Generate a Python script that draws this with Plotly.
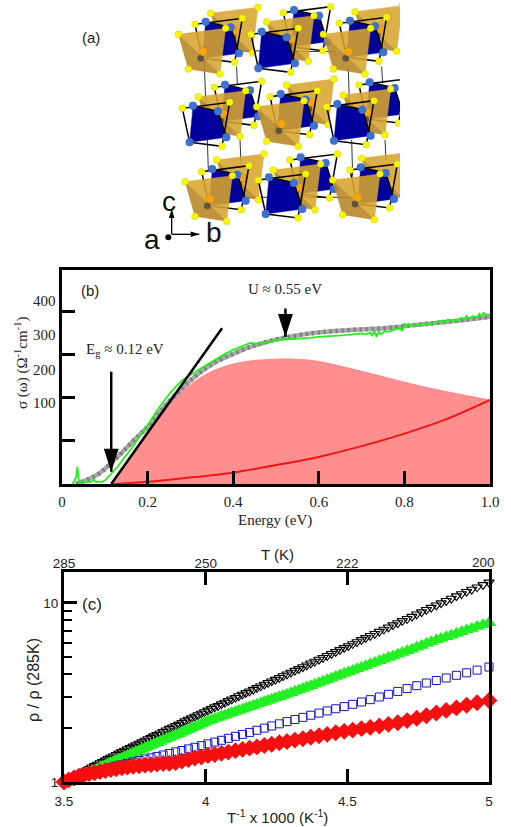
import plotly.graph_objects as go

W, H = 511, 827
SANS = "Liberation Sans"
SERIF = "Liberation Serif"

# ---------- panel (a): structure drawing, in a hidden axis system ----------
GOLD_FACE = [(0, 0), (142, -18), (125, 119), (30, 104)]
GOLD_DARK = [(0, 0), (125, 119), (30, 104)]
GOLD_ATOMS = [(0, 0), (142, -18), (125, 119), (30, 104)]
GOLD_CENTRE = (75, 52)
GOLD_CORE = (67, 72)
BLUE_FACE = [(32, -5), (107, 9), (132, 87), (22, 102)]
BLUE_ATOMS = [(32, -8), (107, 9), (132, 87), (22, 102)]
BLUE_YELLOW = [(0, 0), (142, -18), (119, 114)]
BLUE_CAGE = [(22, 102), (0, 0), (142, -18), (119, 114), (22, 102)]
BLUE_TOP = [(32, -8), (107, 9), (132, 87)]

BACK = [("g", 452, 40), ("b", 670, 38), ("g", 885, 35),
        ("b", 463, 262), ("g", 680, 255), ("b", 897, 255),
        ("g", 470, 480), ("b", 690, 480), ("g", 905, 475)]
MID = [("b", 405, 73), ("g", 620, 65), ("b", 838, 70),
       ("g", 415, 290), ("b", 630, 290), ("g", 850, 285),
       ("b", 425, 515), ("g", 640, 510), ("b", 870, 510)]
FRONT = [("g", 355, 103), ("b", 573, 103), ("g", 790, 103),
         ("b", 367, 325), ("g", 590, 320), ("b", 800, 320),
         ("g", 375, 545), ("b", 595, 540), ("g", 818, 540)]
THIN_BONDS = [((432, 175), (438, 320)), ((530, 200), (532, 255)),
              ((442, 420), (445, 510)), ((540, 420), (543, 490)),
              ((865, 200), (868, 310)), ((965, 200), (968, 250)),
              ((875, 420), (878, 530)), ((975, 420), (978, 480)),
              ((530, 152), (830, 155)), ((445, 592), (880, 592))]
TRIAD_ORIGIN = (335, 703)
TRIAD_DOT = (325, 712)
TRIAD_TIPS = [(418, 703, 90), (335, 628, 0)]

# ---------- panel (b): optical conductivity ----------
FIT_X = [0.033, 0.048, 0.087, 0.126, 0.165, 0.204, 0.243, 0.282, 0.321, 0.36, 0.399,
         0.438, 0.477, 0.524, 0.594, 0.672, 0.75, 0.828, 0.906, 1.0]
FIT_Y = [0, 2.7, 12.4, 29.8, 49.2, 68.6, 92, 112, 129, 142, 151,
         159, 165, 170.5, 176, 179, 181, 185, 188.8, 194.6]
GREEN_X = [0.025, 0.03, 0.033, 0.036, 0.038, 0.04, 0.045, 0.05, 0.06, 0.07, 0.075, 0.08, 0.085,
           0.09, 0.1, 0.11, 0.12, 0.13, 0.14, 0.15, 0.165, 0.18, 0.2, 0.22, 0.24, 0.26, 0.28,
           0.3, 0.32, 0.34, 0.36, 0.38, 0.4, 0.42, 0.44, 0.45, 0.46, 0.48, 0.5, 0.52, 0.54,
           0.56, 0.58, 0.6, 0.62, 0.64, 0.66, 0.68, 0.7, 0.71, 0.72, 0.725, 0.73, 0.735, 0.74,
           0.745, 0.75, 0.755, 0.76, 0.77, 0.78, 0.79, 0.795, 0.8, 0.805, 0.81, 0.815, 0.82,
           0.83, 0.84, 0.85, 0.86, 0.87, 0.88, 0.89, 0.895, 0.9, 0.91, 0.92, 0.925, 0.93,
           0.94, 0.945, 0.95, 0.96, 0.97, 0.975, 0.98, 0.985, 0.99, 1.0]
GREEN_Y = [0, 5, 8, 20, 5, 2, 3, 2, 2, 3, 5, 2, 3,
           2, 4, 9, 14, 20, 27, 33, 43, 55, 68, 84, 98, 110, 120,
           127, 133, 139, 146, 151, 156, 160, 164, 163.5, 163, 165, 167, 168, 168.5,
           169, 170, 171, 171.5, 172, 173, 174, 175, 174, 176, 172, 178, 171, 177,
           174, 176, 178, 177, 178, 180, 181, 178, 187, 183, 186, 184, 185,
           184, 185, 186, 186, 187, 189, 190, 187, 191, 190, 191, 189, 193,
           192, 195, 192, 195, 194, 198, 195, 199, 197, 197]
HUMP_X = [0.115, 0.138, 0.165, 0.204, 0.243, 0.282, 0.321, 0.36, 0.399, 0.438, 0.477, 0.532,
          0.594, 0.672, 0.75, 0.828, 0.906, 1.0]
HUMP_Y = [0, 16, 34.5, 64.7, 88, 108, 123, 133, 139.5, 143, 144.6, 145.4,
          143, 134.5, 124.8, 115, 106.6, 97.7]
DRUDE_X = [0.115, 0.202, 0.282, 0.403, 0.5, 0.602, 0.7, 0.802, 0.9, 1.0]
DRUDE_Y = [0, 2.7, 6.6, 13.5, 22, 31.8, 44, 58.9, 75.7, 97.7]
TANGENT_X = [0.115, 0.374]
TANGENT_Y = [0, 181]
GAP_ARROW_X = [0.115, 0.115]
GAP_ARROW_Y = [130.6, 14.3]
U_ARROW_X = [0.522, 0.522]
U_ARROW_Y = [204, 171]
B_XTICKS = [0, 0.2, 0.4, 0.6, 0.8, 1.0]
B_XLABELS = ["0", "0.2", "0.4", "0.6", "0.8", "1.0"]
B_YTICKS = [50, 100, 150, 200]
B_YLABELS = ["100", "200", "300", "400"]

# ---------- panel (c): resistivity, as log10 of rho/rho(285K) ----------
RES_X = [3.5, 3.517, 3.535, 3.553, 3.571, 3.589, 3.608, 3.627, 3.646, 3.665, 3.684, 3.704, 3.724,
         3.744, 3.765, 3.786, 3.807, 3.828, 3.85, 3.872, 3.894, 3.916, 3.939, 3.962, 3.985, 4.008,
         4.032, 4.056, 4.08, 4.105, 4.13, 4.155, 4.181, 4.207, 4.233, 4.26, 4.287, 4.315, 4.343,
         4.371, 4.4, 4.429, 4.459, 4.489, 4.519, 4.55, 4.581, 4.613, 4.645, 4.678, 4.711, 4.745,
         4.779, 4.814, 4.849, 4.885, 4.921, 4.958, 5.0]
BLACK_LOG = [0, .014, .029, .044, .059, .074, .09, .106, .121, .137, .152, .168, .184,
             .199, .215, .232, .248, .264, .281, .298, .314, .331, .349, .366, .383, .4,
             .418, .435, .453, .471, .489, .507, .526, .545, .563, .582, .602, .622, .642,
             .663, .684, .705, .727, .749, .771, .794, .817, .84, .864, .888, .912, .937,
             .962, .987, 1.012, 1.038, 1.063, 1.088, 1.115]
GREEN_LOG = [-.012, 0, .013, .026, .039, .052, .066, .08, .094, .107, .121, .134, .148,
             .162, .176, .191, .205, .219, .234, .249, .263, .278, .293, .309, .324, .341,
             .354, .367, .38, .394, .407, .42, .434, .448, .462, .476, .49, .507, .522,
             .538, .555, .571, .589, .606, .623, .641, .659, .677, .695, .714, .733, .752,
             .774, .793, .811, .83, .849, .868, .89]
BLUE_LOG = [0, .009, .017, .026, .034, .043, .052, .061, .07, .079, .088, .096, .104,
            .112, .12, .128, .135, .143, .151, .159, .168, .176, .185, .194, .203, .213,
            .223, .233, .244, .255, .266, .277, .289, .301, .313, .325, .337, .349, .361,
            .373, .385, .397, .409, .421, .434, .447, .46, .475, .49, .506, .522, .538,
            .553, .567, .581, .596, .61, .625, .642]
RED_LOG = [0, .012, .022, .032, .041, .047, .052, .058, .064, .069, .074, .08, .084,
           .088, .091, .094, .097, .1, .103, .105, .108, .117, .125, .134, .14, .148,
           .154, .16, .167, .175, .182, .189, .196, .204, .211, .219, .226, .234, .242,
           .25, .258, .266, .275, .283, .29, .298, .305, .313, .322, .331, .343, .356,
           .37, .385, .4, .414, .429, .443, .455]
# the black and green runs were sampled about twice as densely
DENSE_X = [3.509, 3.526, 3.544, 3.562, 3.58, 3.598, 3.617, 3.636, 3.655, 3.674, 3.694, 3.714, 3.734,
           3.754, 3.775, 3.796, 3.817, 3.839, 3.861, 3.883, 3.905, 3.927, 3.95, 3.973, 3.996, 4.02,
           4.044, 4.068, 4.092, 4.117, 4.142, 4.168, 4.194, 4.22, 4.246, 4.273, 4.301, 4.329, 4.357,
           4.385, 4.414, 4.444, 4.474, 4.504, 4.534, 4.565, 4.597, 4.629, 4.661, 4.694, 4.728, 4.762,
           4.796, 4.831, 4.867, 4.903, 4.939, 4.979]
BLACK_DENSE = [.007, .021, .036, .051, .066, .082, .098, .113, .129, .144, .16, .176, .191,
               .207, .223, .24, .256, .272, .289, .306, .322, .34, .357, .374, .391, .409,
               .426, .444, .462, .48, .498, .516, .535, .554, .572, .592, .612, .632, .652,
               .673, .694, .716, .738, .76, .782, .805, .828, .852, .876, .9, .924, .949,
               .974, .999, 1.025, 1.05, 1.075, 1.101]
GREEN_DENSE = [-.006, .006, .02, .032, .045, .059, .073, .087, .1, .114, .127, .141, .155,
               .169, .183, .198, .212, .226, .241, .256, .27, .285, .301, .316, .332, .347,
               .36, .373, .387, .4, .413, .427, .441, .455, .469, .483, .498, .514, .53,
               .546, .563, .58, .597, .614, .632, .65, .668, .686, .704, .723, .742, .763,
               .783, .802, .82, .839, .858, .879]
C_XTICKS = [3.5, 4, 4.5, 5]
C_XLABELS = ["3.5", "4", "4.5", "5"]
C_TOPTICKS = [3.5, 4, 4.5]
C_TOPLABELS = ["285", "250", "222"]
C_YMAJOR = [1, 10]
C_YMINOR = [2, 3, 4, 5, 6, 7, 8, 9]


def px_x(a, b):
    return [a / W, b / W]


def px_y(top, bottom):
    return [1 - bottom / H, 1 - top / H]


fig = go.Figure()


def polys(items, kind, shape):
    xs, ys = [], []
    for k, ox, oy in items:
        if k == kind:
            for dx, dy in shape + shape[:1]:
                xs.append(ox + dx)
                ys.append(oy + dy)
            xs.append(None)
            ys.append(None)
    return xs, ys


def pts(items, kind, shape):
    xs, ys = [], []
    for k, ox, oy in items:
        if k == kind:
            for dx, dy in shape:
                xs.append(ox + dx)
                ys.append(oy + dy)
    return xs, ys


def atoms(xy, color, size):
    fig.add_trace(go.Scatter(x=xy[0], y=xy[1], mode="markers", xaxis="x", yaxis="y",
                             marker=dict(color=color, size=size,
                                         line=dict(color="rgba(90,90,0,0.25)", width=0.5))))


def draw_layer(items):
    x, y = polys(items, "b", BLUE_FACE)
    fig.add_trace(go.Scatter(x=x, y=y, mode="lines", fill="toself", fillcolor="#00009c",
                             line=dict(color="#00009c", width=0.5), xaxis="x", yaxis="y"))
    x, y = [], []
    for k, ox, oy in items:
        if k == "b":
            for dx, dy in BLUE_CAGE:
                x.append(ox + dx)
                y.append(oy + dy)
            x.append(None)
            y.append(None)
            for dx, dy in BLUE_TOP:
                x.append(ox + dx)
                y.append(oy + dy)
            x.append(None)
            y.append(None)
    fig.add_trace(go.Scatter(x=x, y=y, mode="lines", line=dict(color="black", width=1.5),
                             xaxis="x", yaxis="y"))
    atoms(pts(items, "b", BLUE_ATOMS), "#3a72d8", 8)
    atoms(pts(items, "b", BLUE_YELLOW), "#f6f600", 7)
    x, y = polys(items, "g", GOLD_FACE)
    fig.add_trace(go.Scatter(x=x, y=y, mode="lines", fill="toself", fillcolor="rgba(216,165,45,0.88)",
                             line=dict(color="rgba(216,165,45,0.88)", width=0.5), xaxis="x", yaxis="y"))
    x, y = polys(items, "g", GOLD_DARK)
    fig.add_trace(go.Scatter(x=x, y=y, mode="lines", fill="toself", fillcolor="rgba(110,75,40,0.28)",
                             line=dict(color="rgba(0,0,0,0)", width=0), xaxis="x", yaxis="y"))
    atoms(pts(items, "g", [GOLD_CORE]), "#5f5040", 6.5)
    atoms(pts(items, "g", [GOLD_CENTRE]), "#f5a30f", 8.5)
    atoms(pts(items, "g", GOLD_ATOMS), "#f6f600", 7)


for a, b in THIN_BONDS:
    fig.add_trace(go.Scatter(x=[a[0], b[0]], y=[a[1], b[1]], mode="lines", xaxis="x", yaxis="y",
                             line=dict(color="#333333", width=1)))
draw_layer(BACK)
draw_layer(MID)
draw_layer(FRONT)
fig.add_trace(go.Scatter(x=[TRIAD_DOT[0]], y=[TRIAD_DOT[1]], mode="markers", xaxis="x", yaxis="y",
                         marker=dict(color="black", size=6)))
for ex, ey, ang in TRIAD_TIPS:
    fig.add_trace(go.Scatter(x=[TRIAD_ORIGIN[0], ex], y=[TRIAD_ORIGIN[1], ey], mode="lines", xaxis="x", yaxis="y",
                             line=dict(color="black", width=1.3)))
    fig.add_trace(go.Scatter(x=[ex], y=[ey], mode="markers", xaxis="x", yaxis="y",
                             marker=dict(symbol="arrow", size=9, angle=ang, color="black", line=dict(width=0))))

# panel (b)
fig.add_trace(go.Scatter(x=HUMP_X, y=HUMP_Y, mode="lines", fill="tozeroy", fillcolor="#ff8e8e",
                         line=dict(color="#ff8080", width=0.8, shape="spline"), xaxis="x2", yaxis="y2"))
fig.add_trace(go.Scatter(x=DRUDE_X, y=DRUDE_Y, mode="lines", line=dict(color="#f01414", width=2, shape="spline"),
                         xaxis="x2", yaxis="y2"))
fig.add_trace(go.Scatter(x=FIT_X, y=FIT_Y, mode="lines", line=dict(color="#a8a8a8", width=4.5, shape="spline"),
                         xaxis="x2", yaxis="y2"))
fig.add_trace(go.Scatter(x=FIT_X, y=FIT_Y, mode="lines", xaxis="x2", yaxis="y2",
                         line=dict(color="#7c7c7c", width=4.5, shape="spline", dash="2px,4px")))
fig.add_trace(go.Scatter(x=GREEN_X, y=GREEN_Y, mode="lines", line=dict(color="#22f01e", width=1.8),
                         xaxis="x2", yaxis="y2"))
fig.add_trace(go.Scatter(x=TANGENT_X, y=TANGENT_Y, mode="lines", line=dict(color="black", width=2.5),
                         xaxis="x2", yaxis="y2"))
for ax_, ay_ in [(GAP_ARROW_X, GAP_ARROW_Y), (U_ARROW_X, U_ARROW_Y)]:
    fig.add_trace(go.Scatter(x=ax_, y=ay_, mode="lines", line=dict(color="black", width=2.5),
                             xaxis="x2", yaxis="y2"))
    fig.add_trace(go.Scatter(x=ax_[1:], y=ay_[1:], mode="markers", xaxis="x2", yaxis="y2",
                             marker=dict(symbol="arrow", size=24, angle=180, color="black", line=dict(width=0))))

# panel (c)
fig.add_trace(go.Scatter(x=RES_X + DENSE_X, y=[10 ** v for v in BLACK_LOG + BLACK_DENSE], mode="markers",
                         xaxis="x3", yaxis="y3", cliponaxis=False,
                         marker=dict(symbol="triangle-down-open", size=9, color="black", line=dict(width=1.1))))
fig.add_trace(go.Scatter(x=RES_X + DENSE_X, y=[10 ** v for v in GREEN_LOG + GREEN_DENSE], mode="markers",
                         xaxis="x3", yaxis="y3", cliponaxis=False,
                         marker=dict(symbol="triangle-up", size=13, color="#22f022")))
fig.add_trace(go.Scatter(x=RES_X, y=[10 ** v for v in BLUE_LOG], mode="markers", xaxis="x3", yaxis="y3",
                         cliponaxis=False,
                         marker=dict(symbol="square-open", size=8, color="#1414c8", line=dict(width=1))))
fig.add_trace(go.Scatter(x=RES_X, y=[10 ** v for v in RED_LOG], mode="markers", xaxis="x3", yaxis="y3",
                         cliponaxis=False, marker=dict(symbol="diamond", size=13, color="#f50f0f")))
fig.add_trace(go.Scatter(x=[3.5, 5], y=[1, 1], mode="lines", xaxis="x4", yaxis="y3",
                         line=dict(color="rgba(0,0,0,0)", width=0), hoverinfo="skip"))

HIDE = dict(visible=False, fixedrange=True, automargin=False)
serif = dict(family=SERIF, size=15, color="#222222")
sans = dict(family=SANS, size=13.5, color="#222222")
sans15 = dict(family=SANS, size=15, color="#222222")
frame = dict(showline=True, mirror=True, linecolor="black", linewidth=3, showgrid=False, automargin=False,
             zeroline=False, ticks="inside", tickcolor="black", ticklen=13, tickwidth=2.5)

fig.update_layout(
    width=W, height=H, autosize=False, margin=dict(l=0, r=0, t=0, b=0),
    paper_bgcolor="white", plot_bgcolor="white", showlegend=False,
    xaxis=dict(domain=px_x(60, 400), range=[0, 1020], **HIDE),
    yaxis=dict(domain=px_y(0, 255), range=[765, 0], **HIDE),
    xaxis2=dict(domain=px_x(62, 490), range=[0, 1], anchor="y2", tickvals=B_XTICKS, ticktext=B_XLABELS,
                tickfont=serif, ticklabelstandoff=2, **frame),
    yaxis2=dict(domain=px_y(270, 484), range=[0, 248.8], anchor="x2", tickvals=B_YTICKS,
                showticklabels=False, **frame),
    xaxis3=dict(domain=px_x(64, 489), range=[3.5, 5], anchor="y3", tickvals=C_XTICKS, ticktext=C_XLABELS,
                tickfont=sans, ticklabelstandoff=5, **frame),
    xaxis4=dict(domain=px_x(64, 489), range=[3.5, 5], anchor="y3", overlaying="x3", side="top", automargin=False,
                tickvals=C_TOPTICKS, ticktext=C_TOPLABELS, tickfont=sans, showline=False, showgrid=False,
                zeroline=False, ticks="inside", tickcolor="black", ticklen=13, tickwidth=2.5),
    yaxis3=dict(domain=px_y(572, 782), type="log", range=[0, 1.173], anchor="x3", tickvals=C_YMAJOR,
                ticktext=["1", "10"], tickfont=sans, ticklabelstandoff=0,
                minor=dict(tickvals=C_YMINOR, ticks="inside", ticklen=8, tickwidth=2, tickcolor="black"), **frame),
)

ann = []


def text(x, y, s, font, xref="x", yref="y", **kw):
    ann.append(dict(x=x, y=y, xref=xref, yref=yref, text=s, showarrow=False, font=font,
                    **{"xanchor": "center", "yanchor": "middle", **kw}))


def ptext(px, py, s, font, **kw):
    text(px / W, 1 - py / H, s, font, xref="paper", yref="paper", **kw)


big = dict(family=SANS, size=28, color="#111111")
text(93, 112, "(a)", sans15)
text(275, 717, "a", big)
text(462, 698, "b", big)
text(328, 603, "c", big)

ptext(90, 290, "(b)", sans15)
ptext(285, 289, "U ≈ 0.55 eV", serif)
ptext(125, 350, "E<sub>g</sub> ≈ 0.12 eV", serif)
for lbl, py in zip(B_YLABELS, [403, 370, 335, 301]):
    ptext(58, py, lbl, serif, xanchor="right")
ptext(21, 363, "σ (ω) (Ω<sup>-1</sup>cm<sup>-1</sup>)", serif, textangle=-90)
ptext(275, 520, "Energy (eV)", serif)

ptext(92, 604, "(c)", dict(family=SANS, size=17, color="#222222"))
ptext(483, 562, "200", sans)
ptext(277, 554, "T (K)", sans15)
ptext(33, 680, "ρ / ρ (285K)", dict(family=SANS, size=16, color="#222222"), textangle=-90)
ptext(277, 816, "T<sup>-1</sup> x 1000 (K<sup>-1</sup>)", sans15)

fig.update_layout(annotations=ann)

fig.write_html("out.html", config=dict(displayModeBar=False), post_script="document.body.style.margin='0';")
